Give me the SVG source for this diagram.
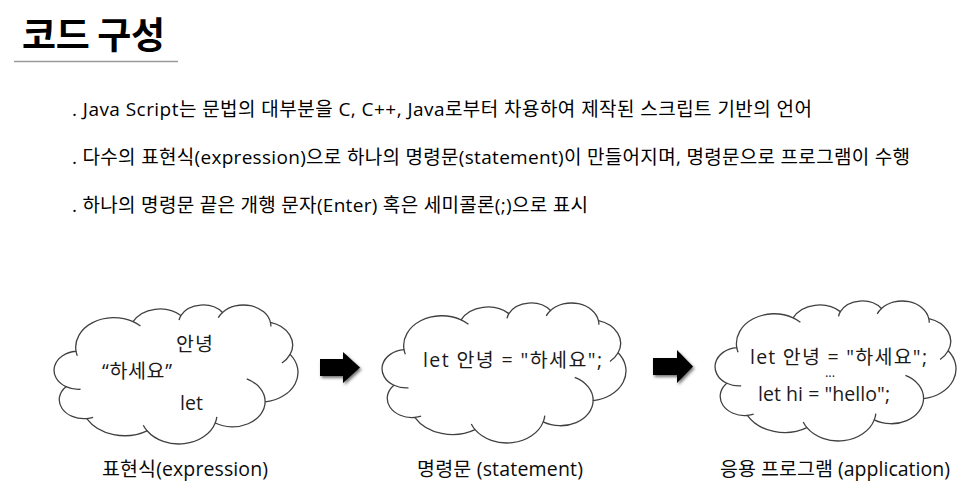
<svg xmlns="http://www.w3.org/2000/svg" xmlns:xlink="http://www.w3.org/1999/xlink" width="975" height="500" viewBox="0 0 975 500">
  <defs>
    <style>
      .title { font-family: "Noto Sans CJK KR", sans-serif; font-weight: 700; font-size: 37px; fill: #000; }
      .bullet { font-family: "Open Sans", "Noto Sans CJK KR", sans-serif; font-size: 19px; fill: #000; }
      .code { font-family: "Open Sans", "Noto Sans CJK KR", sans-serif; font-size: 19.5px; fill: #1a1a1a; }
      .dots { font-family: "Open Sans", sans-serif; font-size: 13px; fill: #1a1a1a; }
      .caption { font-family: "Open Sans", "Noto Sans CJK KR", sans-serif; font-size: 19.5px; fill: #0a0a0a; }
      .cloud-body { fill: #fff; stroke: #404040; stroke-width: 1.3; vector-effect: non-scaling-stroke; }
      .cloud-curl { fill: none; stroke: #404040; stroke-width: 1.3; vector-effect: non-scaling-stroke; }
      .arrow { fill: #000; }
    </style>
    <filter id="shadow" x="-30%" y="-30%" width="160%" height="160%">
      <feDropShadow dx="1.5" dy="2" stdDeviation="1.6" flood-color="#000" flood-opacity="0.55"/>
    </filter>
    <filter id="soft" x="-5%" y="-200%" width="110%" height="500%">
      <feGaussianBlur stdDeviation="1"/>
    </filter>
    <!-- cloud outline in a 43200 x 43200 box -->
    <path id="cloud-outline" class="cloud-body" d="M3900,14370 A6753,9190 0 0 1 14000,5192 A5333,7267 0 0 1 22462,3282 A4365,5945 0 0 1 29839,2330 A4857,6595 0 0 1 38324,5426 A5333,7273 0 0 1 41798,15354 A6775,9220 0 0 1 37386,30100 A5785,7867 0 0 1 28545,36680 A6752,9215 0 0 1 16478,39090 A7720,10543 0 0 1 5800,35295 A4360,5918 0 0 1 2109,25374 A4345,5945 0 0 1 3900,14370 Z"/>
    <!-- inner hooks between the puffs -->
    <path id="cloud-curls" class="cloud-curl" d="M4693,26177 A4345,5945 0 0 1 2109,25374 M6928,34899 A4360,5918 0 0 1 5800,35295 M16478,39090 A6752,9215 0 0 1 15810,37350 M28827,34751 A6752,9215 0 0 1 28545,36680 M34129,22954 A5785,7867 0 0 1 37386,30100 M41798,15354 A5333,7273 0 0 1 40350,18030 M38324,5426 A4857,6595 0 0 1 38400,6690 M29078,3952 A4857,6595 0 0 1 29839,2330 M22141,4720 A4365,5945 0 0 1 22462,3282 M14000,5192 A6753,9190 0 0 1 15305,6551 M4127,15789 A6753,9190 0 0 1 3900,14370"/>
    <g id="cloud">
      <use xlink:href="#cloud-outline"/>
      <use xlink:href="#cloud-curls"/>
    </g>
  </defs>

  <rect width="975" height="500" fill="#fff"/>

  <!-- heading -->
  <g id="title">
    <line x1="14" y1="63.5" x2="178" y2="63.5" stroke="#d8d8d8" stroke-width="2" filter="url(#soft)"/>
    <line x1="14" y1="61.5" x2="178" y2="61.5" stroke="#9a9a9a" stroke-width="1.6"/>
    <text class="title" x="22" y="49" textLength="143">코드 구성</text>
  </g>

  <!-- explanatory bullet lines -->
  <g id="bullets">
    <text class="bullet" x="72" y="116" textLength="740">. Java Script는 문법의 대부분을 C, C++, Java로부터 차용하여 제작된 스크립트 기반의 언어</text>
    <text class="bullet" x="72" y="164" textLength="838">. 다수의 표현식(expression)으로 하나의 명령문(statement)이 만들어지며, 명령문으로 프로그램이 수행</text>
    <text class="bullet" x="72" y="212" textLength="516">. 하나의 명령문 끝은 개행 문자(Enter) 혹은 세미콜론(;)으로 표시</text>
  </g>

  <!-- expression cloud -->
  <g id="expression">
    <use xlink:href="#cloud" transform="translate(54,305) scale(0.005648,0.003218)"/>
    <text class="code" x="176" y="351" textLength="37">안녕</text>
    <text class="code" x="102" y="378" textLength="70">“하세요”</text>
    <text class="code" x="180" y="410" textLength="23">let</text>
    <text class="caption" x="102" y="476" textLength="166">표현식(expression)</text>
  </g>

  <!-- statement cloud -->
  <g id="statement">
    <use xlink:href="#cloud" transform="translate(382,303) scale(0.005648,0.003241)"/>
    <text class="code" x="423" y="367" textLength="179">let 안녕 = "하세요";</text>
    <text class="caption" x="417" y="476" textLength="166">명령문 (statement)</text>
  </g>

  <!-- application cloud -->
  <g id="application">
    <use xlink:href="#cloud" transform="translate(715,301) scale(0.005579,0.003241)"/>
    <text class="code" x="750" y="364" textLength="177">let 안녕 = "하세요";</text>
    <text class="dots" x="830" y="377" text-anchor="middle">...</text>
    <text class="code" x="758" y="401" textLength="132">let hi = "hello";</text>
    <text class="caption" x="720" y="476" textLength="230">응용 프로그램 (application)</text>
  </g>

  <!-- block arrows between the stages -->
  <g id="connectors" filter="url(#shadow)">
    <path class="arrow" d="M320,359 L343,359 L343,352 L360,367.5 L343,383 L343,376 L320,376 Z"/>
    <path class="arrow" d="M653,358 L677,358 L677,350 L693,366.5 L677,383 L677,375 L653,375 Z"/>
  </g>
</svg>
